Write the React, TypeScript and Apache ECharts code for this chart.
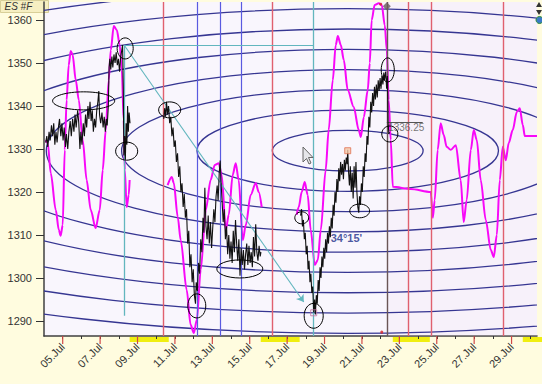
import React, { useEffect, useRef } from 'react';
import * as echarts from 'echarts';

const X_MIN = 4;
const X_MAX = 30.36;
const Y_MIN = 1286.5;
const Y_MAX = 1364.2;

const MONTH = 'Jul';
const RED_TICK_DAYS = [5, 7, 9, 11, 13, 15, 17, 19, 21, 23, 25, 27, 29];
const WEEKENDS: [number, number][] = [[8.58, 10.67], [15.59, 17.67], [22.65, 24.63], [29.6, 30.7]];

const RED_LINES = [10.4, 16.23, 23.5, 24.73, 28.58];
const BLUE_LINES = [12.17, 13.4, 14.57];
const TEAL_FULL_LINE = 18.42;
const LAST_BAR_DAY = 22.33;
const LAST_PRICE = 1336.25;
const LAST_PRICE_END = 24.25;

// teal construction: anchor high, vertical drop, horizontal, diagonal arrow
const TEAL_ANCHOR: [number, number] = [8.28, 1354.2];
const TEAL_DROP_END: [number, number] = [8.28, 1291.2];
const TEAL_H_END: [number, number] = [18.42, 1354.2];
const TEAL_ARROW_END: [number, number] = [17.89, 1294.4];

// Gann ellipses
const GANN_CENTER: [number, number] = [20.24, 1329.6];
const GANN_RX = [4.03, 8.06, 12.09, 16.12, 20.15, 24.18, 28.21, 32.24, 36.27, 40.3];
const GANN_RY = [4.72, 9.44, 14.16, 18.88, 23.6, 28.32, 33.04, 37.76, 42.48, 47.2];

// annotation ellipses: [day, price, halfWidthDays, halfHeightPrice]
const ANNOTATIONS: [number, number, number, number][] = [
  [8.34, 1353.4, 0.43, 2.45], [6.12, 1341.2, 1.66, 2.1], [10.72, 1339.1, 0.59, 1.86],
  [8.42, 1329.5, 0.59, 2.1], [12.17, 1293.5, 0.48, 2.8], [14.47, 1302.1, 1.23, 2.1],
  [17.78, 1314.0, 0.37, 1.4], [18.42, 1291.2, 0.51, 2.9], [20.88, 1315.6, 0.53, 1.6],
  [22.38, 1348.4, 0.35, 2.8], [22.49, 1333.5, 0.43, 1.86],
];

const PRICE_A: [number, number][] = [
  [4.09, 1331.5], [4.15, 1333], [4.2, 1330.5], [4.27, 1334], [4.33, 1332], [4.4, 1335.5], [4.46, 1333], [4.52, 1336],
  [4.58, 1331], [4.64, 1334], [4.7, 1331.5], [4.77, 1335], [4.83, 1337], [4.9, 1333], [4.96, 1336], [5.02, 1332],
  [5.08, 1335], [5.15, 1330.5], [5.2, 1333.5], [5.27, 1330], [5.33, 1334], [5.4, 1336.5], [5.46, 1333], [5.53, 1337],
  [5.6, 1334], [5.66, 1338], [5.72, 1335], [5.8, 1339], [5.86, 1336], [5.92, 1330], [5.97, 1334], [6.03, 1331],
  [6.1, 1336], [6.16, 1333], [6.22, 1338], [6.28, 1335], [6.35, 1340], [6.4, 1337], [6.46, 1341], [6.52, 1336.5],
  [6.58, 1339], [6.64, 1334], [6.7, 1337], [6.76, 1335], [6.82, 1339], [6.88, 1341], [6.93, 1343.5], [6.97, 1338],
  [7.03, 1336], [7.1, 1338.5], [7.16, 1335], [7.22, 1337.5], [7.28, 1334], [7.33, 1337], [7.38, 1335.5], [7.44, 1340],
  [7.48, 1349], [7.52, 1351], [7.57, 1348.5], [7.63, 1351.5], [7.68, 1349], [7.74, 1352], [7.8, 1350], [7.86, 1352.5],
  [7.92, 1349.5], [7.98, 1351], [8.04, 1348], [8.1, 1351.5], [8.16, 1353], [8.2, 1354.2], [8.24, 1344], [8.27, 1328.5],
  [8.31, 1333], [8.35, 1327.5], [8.39, 1336], [8.43, 1331], [8.47, 1340], [8.51, 1334], [8.55, 1338.5], [8.6, 1336],
];

const PRICE_B: [number, number][] = [
  [10.4, 1337], [10.45, 1339.5], [10.5, 1337.5], [10.55, 1341], [10.6, 1338], [10.66, 1340], [10.72, 1336], [10.78, 1337.5],
  [10.84, 1333], [10.9, 1335], [10.96, 1330.5], [11.02, 1332], [11.08, 1327], [11.14, 1329], [11.2, 1323.5], [11.26, 1326],
  [11.32, 1320], [11.38, 1322], [11.44, 1316.5], [11.5, 1319.5], [11.56, 1314], [11.62, 1316], [11.68, 1308], [11.74, 1311],
  [11.8, 1302.5], [11.86, 1305.5], [11.92, 1299], [11.98, 1302], [12.04, 1296], [12.1, 1294], [12.14, 1299], [12.2, 1297],
  [12.26, 1303.5], [12.32, 1301], [12.38, 1309], [12.44, 1306], [12.5, 1314], [12.55, 1310.5], [12.6, 1321], [12.66, 1312],
  [12.72, 1309], [12.78, 1314.5], [12.84, 1308], [12.9, 1313], [12.96, 1307], [13.02, 1311.5], [13.08, 1316], [13.14, 1313],
  [13.2, 1319], [13.26, 1321.5], [13.31, 1318], [13.37, 1324.5], [13.42, 1327.3], [13.47, 1322], [13.52, 1318], [13.58, 1313],
  [13.64, 1316], [13.7, 1309], [13.76, 1312], [13.82, 1305.5], [13.88, 1310], [13.94, 1304.5], [14.0, 1308.5], [14.06, 1303.5],
  [14.12, 1311], [14.18, 1306], [14.24, 1313.5], [14.3, 1308], [14.36, 1304], [14.42, 1309], [14.48, 1300.5], [14.54, 1307],
  [14.6, 1303], [14.66, 1306.5], [14.72, 1302], [14.78, 1305.5], [14.84, 1308], [14.9, 1303], [14.96, 1307.5], [15.02, 1303.5],
  [15.08, 1306], [15.14, 1302.5], [15.2, 1309.5], [15.26, 1305], [15.32, 1312.5], [15.38, 1306], [15.44, 1304], [15.5, 1307.5],
  [15.56, 1305], [15.6, 1306],
];

const PRICE_C: [number, number][] = [
  [17.72, 1314.5], [17.77, 1316], [17.82, 1312], [17.87, 1313.5], [17.92, 1309], [17.97, 1310.5], [18.02, 1305.5], [18.07, 1307.5],
  [18.12, 1302], [18.17, 1304], [18.22, 1299], [18.27, 1301], [18.32, 1296.5], [18.37, 1298], [18.42, 1292], [18.47, 1295],
  [18.51, 1291.5], [18.56, 1296], [18.61, 1294], [18.66, 1299.5], [18.71, 1297], [18.76, 1302.5], [18.81, 1300], [18.86, 1305],
  [18.91, 1302.5], [18.96, 1307], [19.01, 1304.5], [19.06, 1309], [19.11, 1306], [19.16, 1310.5], [19.21, 1308], [19.26, 1312],
  [19.31, 1309.5], [19.36, 1314], [19.41, 1311.5], [19.46, 1317], [19.51, 1314.5], [19.56, 1320], [19.61, 1317.5], [19.66, 1323],
  [19.71, 1320], [19.76, 1325.5], [19.81, 1322.5], [19.86, 1327], [19.91, 1324], [19.96, 1326.5], [20.01, 1323], [20.06, 1327.5],
  [20.11, 1325], [20.16, 1328], [20.21, 1326.5], [20.24, 1329.8], [20.28, 1325], [20.33, 1321.5], [20.38, 1326], [20.43, 1320],
  [20.48, 1324.5], [20.53, 1318.5], [20.58, 1326], [20.63, 1321], [20.68, 1327], [20.73, 1320], [20.78, 1316.5], [20.83, 1315.2],
  [20.87, 1319], [20.92, 1317], [20.97, 1322], [21.02, 1320], [21.07, 1326], [21.12, 1323.5], [21.17, 1329], [21.22, 1327],
  [21.27, 1333], [21.32, 1331], [21.37, 1337.5], [21.42, 1335], [21.47, 1341], [21.52, 1338.5], [21.57, 1343], [21.62, 1340],
  [21.67, 1344.5], [21.72, 1341.5], [21.77, 1345], [21.82, 1342], [21.87, 1346], [21.92, 1343.5], [21.97, 1346.5], [22.02, 1344],
  [22.07, 1347], [22.12, 1345], [22.17, 1347.8], [22.2, 1346], [22.27, 1348], [22.32, 1344], [22.36, 1347], [22.4, 1336],
  [22.44, 1333.5], [22.47, 1334],
];

const CYCLE_A: [number, number][] = [
  [4.09, 1332.1], [4.2, 1331.4], [4.36, 1324.4], [4.63, 1315.8], [4.79, 1311.2], [4.89, 1309.8], [5.0, 1312.3], [5.11, 1329.8],
  [5.21, 1341.4], [5.32, 1349.5], [5.43, 1352.8], [5.53, 1351.9], [5.7, 1346.0], [5.86, 1341.4], [6.07, 1332.1], [6.28, 1322.8],
  [6.5, 1315.8], [6.76, 1311.6], [6.98, 1315.8], [7.14, 1325.1], [7.3, 1334.4], [7.46, 1346.0], [7.57, 1353.0], [7.73, 1358.6],
  [7.89, 1357.7], [8.05, 1354.2], [8.16, 1348.4], [8.26, 1336.7], [8.32, 1325.1], [8.42, 1316.5], [8.53, 1319.3], [8.58, 1322.8],
];

const CYCLE_B: [number, number][] = [
  [10.61, 1321.6], [10.83, 1323.5], [10.94, 1322.1], [11.15, 1314.2], [11.31, 1308.8], [11.63, 1297.2], [11.84, 1289.1],
  [12.01, 1287.2], [12.17, 1290.2], [12.38, 1301.9], [12.65, 1315.8], [12.91, 1322.8], [13.13, 1326.3], [13.34, 1326.7],
  [13.5, 1324.0], [13.72, 1311.2], [13.88, 1314.7], [14.09, 1324.0], [14.25, 1326.7], [14.41, 1322.8], [14.63, 1308.8],
  [14.79, 1312.3], [15.05, 1319.3], [15.32, 1322.1], [15.48, 1320.0], [15.64, 1316.5],
];

const CYCLE_C: [number, number][] = [
  [17.51, 1314.7], [17.62, 1316.5], [17.78, 1320.0], [17.94, 1322.3], [18.1, 1319.3], [18.26, 1311.2], [18.48, 1303.0],
  [18.64, 1304.2], [18.8, 1311.2], [19.06, 1325.1], [19.22, 1334.4], [19.44, 1346.0], [19.6, 1354.2], [19.71, 1356.3],
  [19.87, 1354.2], [20.03, 1350.7], [20.24, 1343.7], [20.56, 1339.8], [20.83, 1334.4], [20.94, 1332.8], [21.1, 1337.4],
  [21.31, 1343.7], [21.42, 1350.0], [21.52, 1360.0], [21.68, 1363.5], [21.9, 1363.9], [22.06, 1363.5], [22.22, 1358.8],
  [22.33, 1353.0], [22.43, 1341.4], [22.54, 1332.1], [22.65, 1321.2], [23.61, 1320.7], [24.68, 1320.0], [24.79, 1314.0],
  [24.89, 1318.1], [25.05, 1329.8], [25.21, 1336.0], [25.37, 1333.3], [25.53, 1330.5], [25.75, 1329.8], [26.02, 1330.9],
  [26.28, 1322.8], [26.44, 1313.0], [26.6, 1318.1], [26.82, 1329.8], [26.98, 1334.4], [27.14, 1332.1], [27.35, 1322.8],
  [27.62, 1313.5], [27.89, 1306.5], [28.05, 1304.9], [28.21, 1310.0], [28.37, 1322.8], [28.53, 1330.5], [28.69, 1327.4],
  [28.85, 1331.4], [29.06, 1334.4], [29.28, 1338.6], [29.44, 1339.5], [29.6, 1335.6], [29.71, 1333.0], [30.36, 1333.0],
];

const PEAK_MARK: [number, number] = [20.24, 1329.6];
const LOW_MARK: [number, number] = [18.42, 1291.9];
const TOP_DIAMOND: [number, number] = [22.33, 1363.2];
const RED_DOTS: [number, number][] = [[22.0, 1363.7], [22.06, 1287.4]];
const ANGLE_TEXT = "34°15'";
const ANGLE_POS: [number, number] = [19.33, 1309.3];
const PRICE_TEXT_POS: [number, number] = [22.4, 1335.0];
const SYMBOL_TEXT = 'ES #F';

const RED = '#e0606e';
const BLUE = '#5a5ae0';
const TEAL = '#62b6be';
const RING = '#363692';
const MAGENTA = '#f808f8';

export default function App() {
  const ref = useRef<HTMLDivElement>(null);
  useEffect(() => {
    if (!ref.current) return;
    const chart = echarts.init(ref.current, undefined, { renderer: 'svg' });
    const pad2 = (v: number) => (v < 10 ? '0' + v : String(v));

    const lineSeries = (data: [number, number][], color: string, width: number, smooth: number | boolean, z: number) => ({
      type: 'line',
      data,
      showSymbol: false,
      symbol: 'none',
      smooth,
      smoothMonotone: 'x',
      clip: true,
      z,
      lineStyle: { color, width },
      silent: true,
    });

    const option: any = {
      animation: false,
      backgroundColor: '#fffcdf',
      grid: {
        left: 44, right: 5, top: 2, bottom: 48,
        show: true, backgroundColor: '#f9f6fd', borderWidth: 0,
        containLabel: false, outerBoundsMode: 'none',
      },
      xAxis: {
        type: 'value', min: X_MIN, max: X_MAX, interval: 1,
        axisLine: { show: true, onZero: false, lineStyle: { color: '#404040', width: 1.5 } },
        axisTick: { show: true, length: 3, lineStyle: { color: '#333' } },
        splitLine: { show: false },
        axisLabel: {
          rotate: 45, margin: 9, color: '#333', fontSize: 11, fontFamily: 'Arial, Liberation Sans, sans-serif',
          showMinLabel: false, showMaxLabel: false,
          formatter: (v: number) => (Number.isInteger(v) && v % 2 === 1 ? pad2(v) + '.' + MONTH : ''),
        },
      },
      yAxis: {
        type: 'value', min: Y_MIN, max: Y_MAX, splitNumber: 8, scale: true,
        axisLine: { show: true, onZero: false, lineStyle: { color: '#404040', width: 1.5 } },
        axisTick: { show: true, length: 8, lineStyle: { color: '#333' } },
        splitLine: { show: false },
        axisLabel: {
          margin: 12, color: '#333', fontSize: 11, fontFamily: 'Arial, Liberation Sans, sans-serif',
          showMinLabel: false, showMaxLabel: false,
          formatter: (v: number) => (v % 10 === 0 ? String(v) : ''),
        },
      },
      series: [
        // future shading
        {
          type: 'line', data: [], z: 0,
          markArea: {
            silent: true,
            itemStyle: { color: 'rgba(236,222,236,0.18)' },
            data: [[{ xAxis: LAST_BAR_DAY }, { xAxis: X_MAX }]],
          },
        },
        // weekend bars below axis
        {
          type: 'custom', z: -1, silent: true, clip: false,
          data: WEEKENDS,
          renderItem: (params: any, api: any) => {
            const a = api.coord([api.value(0), Y_MIN]);
            const b = api.coord([api.value(1), Y_MIN]);
            return { type: 'rect', shape: { x: a[0], y: a[1] + 1, width: b[0] - a[0], height: 5 }, style: { fill: '#f0ee10' } };
          },
        },
        // red major ticks
        {
          type: 'custom', z: 3, silent: true, clip: false,
          data: RED_TICK_DAYS.map((d) => [d, Y_MIN]),
          renderItem: (params: any, api: any) => {
            const p = api.coord([api.value(0), api.value(1)]);
            return { type: 'line', shape: { x1: p[0], y1: p[1], x2: p[0], y2: p[1] + 8 }, style: { stroke: '#d04848', lineWidth: 1.2 } };
          },
        },
        // Gann ellipses
        {
          type: 'custom', z: 1, silent: true, clip: true,
          data: GANN_RX.map((rx, i) => [GANN_CENTER[0], GANN_CENTER[1], rx, GANN_RY[i]]),
          renderItem: (params: any, api: any) => {
            const c = api.coord([api.value(0), api.value(1)]);
            const s = api.size([api.value(2), api.value(3)]);
            return { type: 'ellipse', shape: { cx: c[0], cy: c[1], rx: s[0], ry: s[1] }, style: { fill: 'none', stroke: RING, lineWidth: 1.3 } };
          },
        },
        // vertical / construction lines
        {
          type: 'line', data: [], z: 2,
          markLine: {
            silent: true, symbol: ['none', 'none'], label: { show: false },
            data: [
              ...RED_LINES.map((d) => ({ xAxis: d, lineStyle: { color: RED, width: 1.4, type: 'solid' } })),
              ...BLUE_LINES.map((d) => ({ xAxis: d, lineStyle: { color: BLUE, width: 1.2, type: 'solid' } })),
              { xAxis: TEAL_FULL_LINE, lineStyle: { color: TEAL, width: 1.3, type: 'solid' } },
              { xAxis: LAST_BAR_DAY, lineStyle: { color: '#6a5656', width: 1.4, type: 'solid' } },
              [{ coord: TEAL_ANCHOR, lineStyle: { color: TEAL, width: 1.3, type: 'solid' } }, { coord: TEAL_DROP_END }],
              [{ coord: TEAL_ANCHOR, lineStyle: { color: TEAL, width: 1.2, type: 'solid' } }, { coord: TEAL_H_END }],
              [{ coord: [LAST_BAR_DAY, LAST_PRICE], lineStyle: { color: '#555', width: 1, type: 'solid' } }, { coord: [LAST_PRICE_END, LAST_PRICE] }],
            ],
          },
        },
        {
          type: 'line', data: [], z: 2,
          markLine: {
            silent: true, symbol: ['none', 'arrow'], symbolSize: 7, label: { show: false },
            data: [[{ coord: TEAL_ANCHOR, lineStyle: { color: TEAL, width: 1.1, type: 'solid' } }, { coord: TEAL_ARROW_END }]],
          },
        },
        // cycle (magenta)
        lineSeries(CYCLE_A, MAGENTA, 2, 0.3, 4),
        lineSeries(CYCLE_B, MAGENTA, 2, 0.3, 4),
        lineSeries(CYCLE_C, MAGENTA, 2, 0.3, 4),
        // price
        lineSeries(PRICE_A, '#111', 1.1, false, 5),
        lineSeries(PRICE_B, '#111', 1.1, false, 5),
        lineSeries(PRICE_C, '#111', 1.1, false, 5),
        // annotation ellipses
        {
          type: 'custom', z: 6, silent: true, clip: true,
          data: ANNOTATIONS,
          renderItem: (params: any, api: any) => {
            const c = api.coord([api.value(0), api.value(1)]);
            const s = api.size([api.value(2), api.value(3)]);
            return { type: 'ellipse', shape: { cx: c[0], cy: c[1], rx: s[0], ry: s[1] }, style: { fill: 'none', stroke: '#000', lineWidth: 1 } };
          },
        },
        // markers
        {
          type: 'scatter', z: 7, silent: true, symbol: 'rect', symbolSize: 6,
          itemStyle: { color: '#f6c8a8', borderColor: '#e07050', borderWidth: 1 },
          data: [PEAK_MARK],
        },
        {
          type: 'scatter', z: 7, silent: true, symbol: 'rect', symbolSize: 6,
          itemStyle: { color: 'rgba(0,0,0,0)', borderColor: '#c070a0', borderWidth: 1 },
          data: [LOW_MARK],
        },
        {
          type: 'scatter', z: 7, silent: true, symbol: 'diamond', symbolSize: 8,
          itemStyle: { color: '#6a5a5a' },
          data: [TOP_DIAMOND],
        },
        {
          type: 'scatter', z: 7, silent: true, symbol: 'circle', symbolSize: 3,
          itemStyle: { color: '#dd2222' },
          data: RED_DOTS,
        },
        // texts
        {
          type: 'scatter', z: 8, silent: true, symbolSize: 0,
          data: [ANGLE_POS],
          label: { show: true, position: 'right', distance: 0, formatter: ANGLE_TEXT, color: '#1c2f8a', fontWeight: 'bold', fontSize: 11, fontFamily: 'Arial, Liberation Sans, sans-serif' },
        },
        {
          type: 'scatter', z: 8, silent: true, symbolSize: 0,
          data: [PRICE_TEXT_POS],
          label: { show: true, position: 'right', distance: 0, formatter: String(LAST_PRICE), color: '#555', fontSize: 10, fontFamily: 'Arial, Liberation Sans, sans-serif' },
        },
      ],
      graphic: [
        {
          type: 'group', left: 0, top: 0, z: 100,
          children: [
            { type: 'rect', shape: { x: 0, y: 0, width: 48, height: 12 }, style: { fill: '#f6efc2', stroke: '#d8cf98', lineWidth: 1 } },
            { type: 'text', x: 4, y: 1, style: { text: SYMBOL_TEXT, font: 'italic 10px Arial, Liberation Sans, sans-serif', fill: '#333' } },
          ],
        },
        {
          type: 'polygon', z: 100, silent: true,
          shape: { points: [[303, 147], [303, 162], [306.5, 158.5], [309, 164], [311, 163], [308.5, 157.5], [313, 157.5]] },
          style: { fill: '#e6e6ea', stroke: '#666', lineWidth: 1 },
        },
        { type: 'polygon', z: 100, shape: { points: [[536, 7], [542, 7], [539, 2]] }, style: { fill: '#333' } },
        { type: 'polygon', z: 100, shape: { points: [[536, 10], [542, 10], [539, 15]] }, style: { fill: '#333' } },
        { type: 'circle', z: 100, shape: { cx: 539.5, cy: 20, r: 3.5 }, style: { fill: '#3a7ac8', stroke: '#2a8a3a', lineWidth: 1 } },
      ],
    };

    chart.setOption(option);
    return () => chart.dispose();
  }, []);

  return <div ref={ref} style={{ position: 'fixed', left: 0, top: 0, width: 542, height: 384 }} />;
}
